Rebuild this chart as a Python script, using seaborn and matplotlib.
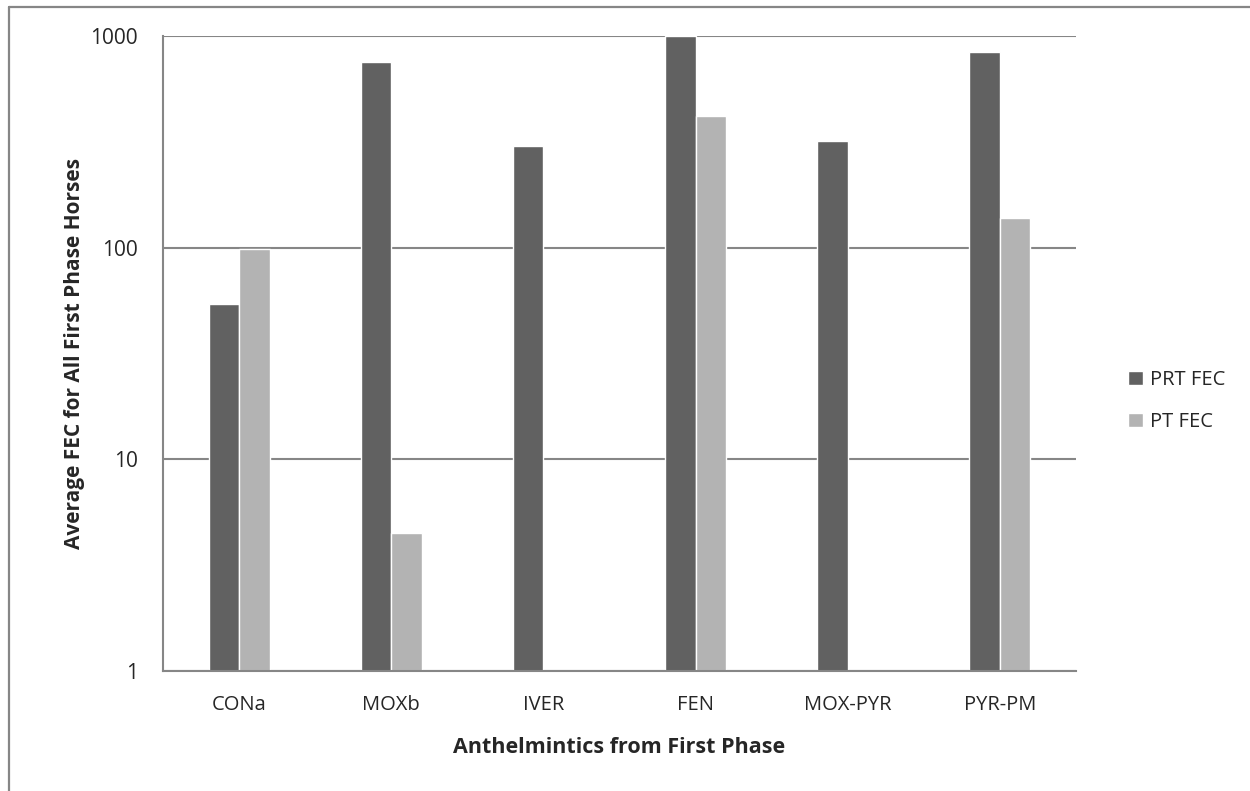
import matplotlib
matplotlib.use('Agg')
import matplotlib.pyplot as plt
import seaborn as sns
import pandas as pd
import numpy as np
from matplotlib.lines import Line2D

# Dados (escala log)
categorias = ['CONa', 'MOXb', 'IVER', 'FEN', 'MOX-PYR', 'PYR-PM']
prt_fec = [54, 755, 303, 1000, 319, 836]
pt_fec = [99, 4.5, np.nan, 418, np.nan, 138]
series = ['PRT FEC', 'PT FEC']
cores = ['#616161', '#b3b3b3']

df = pd.DataFrame({
    'Anthelmintic': categorias * 2,
    'FEC': prt_fec + pt_fec,
    'Serie': [series[0]] * len(categorias) + [series[1]] * len(categorias),
})

sns.set_style('white')
plt.rcParams['font.family'] = ['Open Sans', 'DejaVu Sans']

fig = plt.figure(figsize=(12.5, 7.91), dpi=100)
ax = fig.add_axes([163 / 1250, 1 - 671 / 791, 913 / 1250, 635 / 791])
ax.set_yscale('log')

sns.barplot(data=df, x='Anthelmintic', y='FEC', hue='Serie', hue_order=series,
            palette=cores, width=0.4, saturation=1, ax=ax, legend=True)

ax.set_ylim(1, 1000)
ax.set_xlim(-0.5, len(categorias) - 0.5)
ax.set_yticks([1, 10, 100, 1000])
ax.set_yticklabels(['1', '10', '100', '1000'])
ax.minorticks_off()
ax.yaxis.grid(True, color='#868686', linewidth=1.5)
ax.set_axisbelow(True)

for lado in ['top', 'right']:
    ax.spines[lado].set_visible(False)
for lado in ['left', 'bottom']:
    ax.spines[lado].set_color('#868686')
    ax.spines[lado].set_linewidth(1.5)

ax.tick_params(axis='y', which='major', direction='out', length=6, width=1.2,
               color='#868686', labelsize=15, pad=12)
ax.tick_params(axis='x', length=0, labelsize=14.5, pad=17)

ax.set_xlabel('Anthelmintics from First Phase', fontsize=15.5, fontweight='bold', labelpad=16)
ax.set_ylabel('Average FEC for All First Phase Horses', fontsize=15, fontweight='bold', labelpad=4)

ax.legend(loc='center left', bbox_to_anchor=(1110 / 1250, 1 - 401 / 791),
          bbox_transform=fig.transFigure, frameon=False, fontsize=14.5,
          handlelength=0.72, handleheight=0.72, labelspacing=1.1, handletextpad=0.35)

# moldura (só esquerda e topo aparecem)
fig.add_artist(Line2D([9 / 1250, 9 / 1250], [0, 1 - 7 / 791], transform=fig.transFigure,
                      color='#868686', linewidth=1.6))
fig.add_artist(Line2D([9 / 1250, 1], [1 - 7 / 791, 1 - 7 / 791], transform=fig.transFigure,
                      color='#868686', linewidth=1.6))

plt.savefig('out.png', dpi=100)
